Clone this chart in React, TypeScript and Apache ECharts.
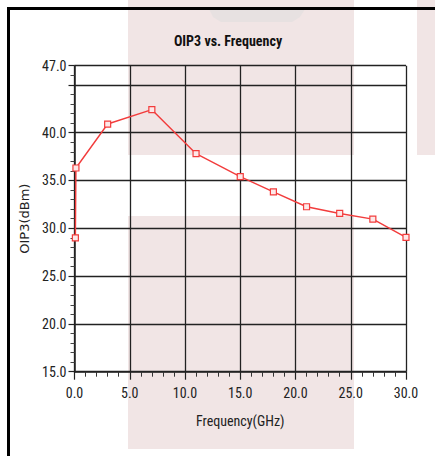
import React, { useEffect, useRef } from "react";
import * as echarts from "echarts";

const freqGHz = [0.08, 0.13, 3, 7, 11, 15, 18, 21, 24, 27, 30];
const oip3dBm = [29.0, 36.3, 40.9, 42.4, 37.8, 35.4, 33.8, 32.25, 31.55, 30.95, 29.05];
const yTickHidden = [45];

const NARROW = '"Liberation Sans Narrow", "Arial Narrow", "Roboto Condensed", sans-serif';

export default function App() {
  const ref = useRef<HTMLDivElement>(null);
  useEffect(() => {
    if (!ref.current) return;
    const chart = echarts.init(ref.current, null, { renderer: "svg" });
    const pink = "#f1e5e5";
    chart.setOption({
      animation: false,
      backgroundColor: "#ffffff",
      graphic: [
        { type: "rect", z: -100, silent: true, shape: { x: 128, y: 0, width: 226, height: 155 }, style: { fill: pink } },
        { type: "rect", z: -100, silent: true, shape: { x: 128, y: 216, width: 226, height: 233 }, style: { fill: pink } },
        { type: "rect", z: -100, silent: true, shape: { x: 417, y: 0, width: 18, height: 155 }, style: { fill: pink } },
        {
          type: "polygon",
          z: -99,
          silent: true,
          shape: { points: [[209, 9], [305, 9], [300, 17], [292, 22], [221, 22], [213, 17]] },
          style: { fill: "#e7e1e1" },
        },
        { type: "polyline", z: 100, silent: true, shape: { points: [[8.5, 460], [8.5, 8.5], [440, 8.5]] }, style: { stroke: "#000", lineWidth: 3, fill: "none" } },
      ],
      title: {
        text: "OIP3 vs. Frequency",
        left: 223,
        textAlign: "center",
        top: 29,
        textStyle: { fontFamily: NARROW, fontSize: 14, fontWeight: "bold", color: "#111" },
      },
      grid: { left: 74.5, right: 29, top: 65.7, bottom: 84.3, containLabel: false, show: false },
      xAxis: {
        type: "value",
        min: 0,
        max: 30,
        interval: 5,
        name: "Frequency(GHz)",
        nameLocation: "middle",
        nameGap: 42,
        nameTextStyle: { fontFamily: NARROW, fontSize: 14, color: "#222" },
        axisLine: { show: true, onZero: false, lineStyle: { color: "#222", width: 1.5 } },
        axisTick: { show: true, inside: false, length: 8, lineStyle: { color: "#222", width: 1.2 } },
        minorTick: { show: true, splitNumber: 5, length: 5, lineStyle: { color: "#333", width: 1 } },
        axisLabel: { margin: 14, fontFamily: NARROW, fontSize: 14, color: "#222", formatter: (v: number) => v.toFixed(1) },
        splitLine: { show: true, lineStyle: { color: "#222", width: 1.3 } },
      },
      yAxis: {
        type: "value",
        min: 15,
        max: 47,
        interval: 5,
        name: "OIP3(dBm)",
        nameLocation: "middle",
        nameGap: 37,
        nameRotate: 90,
        nameTextStyle: { fontFamily: '"DejaVu Sans", sans-serif', fontSize: 13, color: "#222" },
        axisLine: { show: true, onZero: false, lineStyle: { color: "#222", width: 1.5 } },
        axisTick: { show: true, inside: false, length: 6, lineStyle: { color: "#222", width: 1.2 } },
        minorTick: { show: true, splitNumber: 5, length: 4, lineStyle: { color: "#444", width: 1 } },
        axisLabel: {
          margin: 8,
          fontFamily: NARROW,
          fontSize: 14,
          color: "#222",
          formatter: (v: number) => (yTickHidden.includes(v) ? "" : v.toFixed(1)),
        },
        splitLine: { show: true, lineStyle: { color: "#222", width: 1.3 } },
      },
      series: [
        {
          type: "line",
          data: freqGHz.map((f, i) => [f, oip3dBm[i]]),
          symbol: "rect",
          symbolSize: 6,
          showAllSymbol: true,
          clip: false,
          lineStyle: { color: "#f23c3c", width: 1.4 },
          itemStyle: { color: "#fde8e8", borderColor: "#f23c3c", borderWidth: 1.2 },
          z: 10,
        },
      ],
    });
    return () => chart.dispose();
  }, []);
  return (
    <div
      ref={ref}
      style={{ position: "absolute", left: 0, top: 0, width: 435, height: 456 }}
    />
  );
}
